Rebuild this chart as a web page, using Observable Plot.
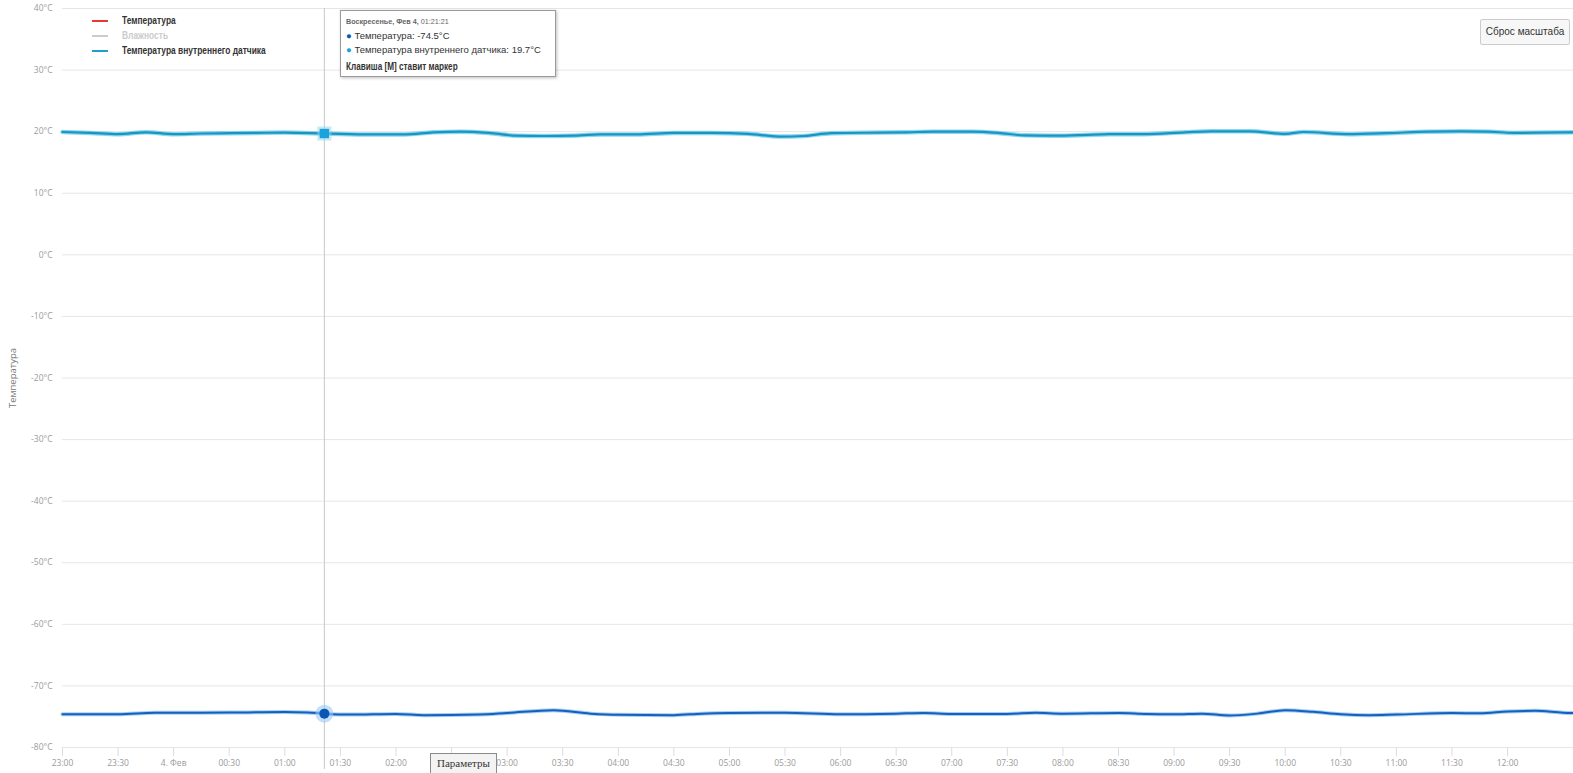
<!DOCTYPE html>
<html>
<head>
<meta charset="utf-8">
<script src="https://cdn.jsdelivr.net/npm/d3@7"></script>
<script src="https://cdn.jsdelivr.net/npm/@observablehq/plot@0.6"></script>
<style>
  html, body { margin: 0; padding: 0; background: #fff; }
  #wrap { position: relative; width: 1573px; height: 773px; overflow: hidden; }
  #wrap svg { position: absolute; left: 0; top: 0; }
  .legend { position: absolute; left: 92px; top: 13px; font-family: "Liberation Sans", Arial, sans-serif; font-weight: bold; font-size: 10.5px; color: #333; }
  .legend .row { height: 15px; line-height: 15px; white-space: nowrap; position: relative; }
  .legend .sw { position: absolute; left: 0; top: 7px; width: 16px; height: 2px; }
  .legend .tx { position: absolute; left: 30px; top: 0; transform: scaleX(0.8); transform-origin: 0 50%; }
  .tip { position: absolute; left: 340px; top: 10px; width: 214px; height: 65px; border: 1px solid #9a9a9a; background: rgba(255,255,255,0.95); box-shadow: 1px 1px 3px rgba(0,0,0,0.25); font-family: "Liberation Sans", Arial, sans-serif; color: #333; }
  .tip .l1 { position: absolute; left: 5px; top: 6px; font-size: 8px; color: #666; white-space: nowrap; transform: scaleX(0.9); transform-origin: 0 50%; }
  .tip .l2, .tip .l3 { position: absolute; left: 5px; font-size: 9.5px; white-space: nowrap; color: #333; }
  .tip .l2 { top: 19px; }
  .tip .l3 { top: 33px; }
  .tip .l4 { position: absolute; left: 5px; top: 49px; font-size: 10.5px; font-weight: bold; color: #333; white-space: nowrap; transform: scaleX(0.78); transform-origin: 0 50%; }
  .btn { position: absolute; white-space: nowrap; box-sizing: border-box; text-align: center; }
  .reset { left: 1480px; top: 19px; width: 90px; height: 26px; border: 1px solid #cccccc; border-radius: 2px; background: #f7f7f7; font-family: "Liberation Sans", Arial, sans-serif; font-size: 10px; line-height: 24px; color: #333; }
  .params { left: 430px; top: 753px; width: 67px; height: 21px; border: 1px solid #8a8a8a; background: #f3f3f3; font-family: "Liberation Serif", "Times New Roman", serif; font-size: 11px; font-weight: normal; line-height: 19px; color: #333; }
</style>
</head>
<body>
<div id="wrap"></div>
<script>
// ---- Data ----
const seriesNames = ["Температура", "Влажность", "Температура внутреннего датчика"];
const seriesColors = ["#e53935", "#cccccc", "#1ba1d0"];

// Temperature (outdoor), °C
const tempTimes = [
  "2024-02-03T23:00", "2024-02-03T23:15", "2024-02-03T23:30", "2024-02-03T23:50",
  "2024-02-04T00:15", "2024-02-04T00:40", "2024-02-04T01:00", "2024-02-04T01:12",
  "2024-02-04T01:21:21", "2024-02-04T01:35", "2024-02-04T02:00", "2024-02-04T02:15",
  "2024-02-04T02:45", "2024-02-04T03:00", "2024-02-04T03:25", "2024-02-04T03:45",
  "2024-02-04T04:00", "2024-02-04T04:30", "2024-02-04T04:45", "2024-02-04T05:00",
  "2024-02-04T05:30", "2024-02-04T06:00", "2024-02-04T06:30", "2024-02-04T06:45",
  "2024-02-04T07:00", "2024-02-04T07:30", "2024-02-04T07:45", "2024-02-04T08:00",
  "2024-02-04T08:30", "2024-02-04T08:45", "2024-02-04T09:00", "2024-02-04T09:15",
  "2024-02-04T09:30", "2024-02-04T09:45", "2024-02-04T10:00", "2024-02-04T10:15",
  "2024-02-04T10:30", "2024-02-04T10:45", "2024-02-04T11:00", "2024-02-04T11:30",
  "2024-02-04T11:45", "2024-02-04T12:00", "2024-02-04T12:15", "2024-02-04T12:30",
  "2024-02-04T12:36"
];
const tempValues = [
  -74.6, -74.6, -74.6, -74.35,
  -74.35, -74.3, -74.25, -74.3,
  -74.5, -74.65, -74.55, -74.75,
  -74.65, -74.4, -73.95, -74.5,
  -74.7, -74.75, -74.5, -74.4,
  -74.35, -74.6, -74.5, -74.4,
  -74.55, -74.55, -74.35, -74.5,
  -74.4, -74.55, -74.6, -74.5,
  -74.8, -74.5, -73.95, -74.2,
  -74.6, -74.75, -74.65, -74.4,
  -74.45, -74.15, -74.05, -74.35,
  -74.4
];

// Internal sensor temperature, °C
const innerTimes = [
  "2024-02-03T23:00", "2024-02-03T23:15", "2024-02-03T23:30", "2024-02-03T23:45",
  "2024-02-04T00:00", "2024-02-04T00:15", "2024-02-04T00:30", "2024-02-04T00:45",
  "2024-02-04T01:00", "2024-02-04T01:21:21", "2024-02-04T01:35", "2024-02-04T01:50",
  "2024-02-04T02:05", "2024-02-04T02:20", "2024-02-04T02:35", "2024-02-04T02:50",
  "2024-02-04T03:05", "2024-02-04T03:20", "2024-02-04T03:35", "2024-02-04T03:50",
  "2024-02-04T04:10", "2024-02-04T04:30", "2024-02-04T04:50", "2024-02-04T05:10",
  "2024-02-04T05:27", "2024-02-04T05:40", "2024-02-04T05:55", "2024-02-04T06:22",
  "2024-02-04T06:36", "2024-02-04T06:50", "2024-02-04T07:11", "2024-02-04T07:25",
  "2024-02-04T07:39", "2024-02-04T07:55", "2024-02-04T08:11", "2024-02-04T08:25",
  "2024-02-04T08:44", "2024-02-04T09:06", "2024-02-04T09:20", "2024-02-04T09:41",
  "2024-02-04T10:00", "2024-02-04T10:10", "2024-02-04T10:34", "2024-02-04T10:55",
  "2024-02-04T11:17", "2024-02-04T11:35", "2024-02-04T11:50", "2024-02-04T12:03",
  "2024-02-04T12:20", "2024-02-04T12:36"
];
const innerValues = [
  19.95, 19.8, 19.6, 19.9,
  19.6, 19.7, 19.75, 19.8,
  19.85, 19.7, 19.6, 19.55,
  19.55, 19.9, 20.0, 19.8,
  19.35, 19.3, 19.35, 19.55,
  19.55, 19.8, 19.8, 19.65,
  19.2, 19.3, 19.75, 19.85,
  19.9, 20.0, 20.0, 19.8,
  19.4, 19.35, 19.45, 19.6,
  19.6, 19.9, 20.05, 20.05,
  19.65, 19.95, 19.6, 19.75,
  20.0, 20.05, 20.0, 19.8,
  19.85, 19.9
];

const yTicks = [-80, -70, -60, -50, -40, -30, -20, -10, 0, 10, 20, 30, 40];
const xStart = "2024-02-03T23:00";
const xEnd = "2024-02-04T12:35:36";
const xLastTick = "2024-02-04T12:00";
const xHiddenLabel = "02:30"; // covered by the «Параметры» button in the source
const crossTime = "2024-02-04T01:21:21";
const crossTemp = -74.5;
const crossInner = 19.7;
const monthShort = "Фев";

// ---- Build ----
const tempRows = tempTimes.map((t, i) => ({t: new Date(t), v: tempValues[i]}));
const innerRows = innerTimes.map((t, i) => ({t: new Date(t), v: innerValues[i]}));
const x0 = new Date(xStart), x1 = new Date(xEnd);
const xTicks = d3.timeMinute.every(30).range(x0, new Date(+new Date(xLastTick) + 1));
const fmtHM = d3.timeFormat("%H:%M");
const xFmt = d => {
  if (d.getHours() === 0 && d.getMinutes() === 0) return `${d.getDate()}. ${monthShort}`;
  const s = fmtHM(d);
  return s === xHiddenLabel ? "" : s;
};
const ct = new Date(crossTime);

const chart = Plot.plot({
  width: 1573,
  height: 773,
  marginLeft: 62,
  marginRight: 0,
  marginTop: 8,
  marginBottom: 26,
  style: {fontFamily: "'Open Sans', 'DejaVu Sans', sans-serif", background: "white", overflow: "visible"},
  x: {type: "time", domain: [x0, x1]},
  y: {domain: [-80, 40]},
  marks: [
    Plot.gridY(yTicks, {stroke: "#e6e6e6", strokeOpacity: 1}),
    Plot.axisY(yTicks, {tickSize: 0, tickPadding: 10, tickFormat: d => d + "°C", fontSize: 8.5, fill: "#9a9a9a", label: null}),
    Plot.axisX(xTicks, {tickSize: 9, tickPadding: 3, stroke: "#d8dde8", fill: "#9a9a9a", fontSize: 8.5, tickFormat: xFmt, label: null}),
    Plot.text([seriesNames[0]], {frameAnchor: "left", dx: -50, rotate: -90, textAnchor: "middle", fontSize: 9.5, fill: "#777"}),
    Plot.ruleX([ct], {stroke: "#c8c8c8", strokeWidth: 1, insetBottom: -22}),
    // internal sensor line (halo + core)
    Plot.line(innerRows, {x: "t", y: "v", curve: "monotone-x", stroke: "#63c9ec", strokeWidth: 4.5, strokeOpacity: 0.75}),
    Plot.line(innerRows, {x: "t", y: "v", curve: "monotone-x", stroke: "#1b95c0", strokeWidth: 2.2}),
    // temperature line (halo + core)
    Plot.line(tempRows, {x: "t", y: "v", curve: "monotone-x", stroke: "#7ab8ee", strokeWidth: 4, strokeOpacity: 0.7}),
    Plot.line(tempRows, {x: "t", y: "v", curve: "monotone-x", stroke: "#1560bd", strokeWidth: 2}),
    // hover markers
    Plot.dot([{t: ct, v: crossInner}], {x: "t", y: "v", symbol: "square", r: 8, fill: "#8fd6f0", fillOpacity: 0.5}),
    Plot.dot([{t: ct, v: crossInner}], {x: "t", y: "v", symbol: "square", r: 5.3, fill: "#1aa3db"}),
    Plot.dot([{t: ct, v: crossTemp}], {x: "t", y: "v", r: 9, fill: "#9cc9f3", fillOpacity: 0.6}),
    Plot.dot([{t: ct, v: crossTemp}], {x: "t", y: "v", r: 5, fill: "#0b55b5"})
  ]
});

const wrap = document.getElementById("wrap");
wrap.appendChild(chart);

// Legend
const legend = document.createElement("div");
legend.className = "legend";
seriesNames.forEach((n, i) => {
  const row = document.createElement("div");
  row.className = "row";
  const sw = document.createElement("span");
  sw.className = "sw";
  sw.style.background = seriesColors[i];
  row.appendChild(sw);
  const tx = document.createElement("span");
  tx.className = "tx";
  tx.textContent = n;
  if (i === 1) tx.style.color = "#cccccc";
  row.appendChild(tx);
  legend.appendChild(row);
});
wrap.appendChild(legend);

// Tooltip
const tip = document.createElement("div");
tip.className = "tip";
tip.innerHTML =
  `<div class="l1"><b>Воскресенье, ${monthShort} 4,</b> ${d3.timeFormat("%H:%M:%S")(ct)}</div>` +
  `<div class="l2"><span style="color:#0b55b5">●</span> ${seriesNames[0]}: ${crossTemp}°C</div>` +
  `<div class="l3"><span style="color:#1aa3db">●</span> ${seriesNames[2]}: ${crossInner}°C</div>` +
  `<div class="l4">Клавиша [M] ставит маркер</div>`;
wrap.appendChild(tip);

// Buttons
const reset = document.createElement("div");
reset.className = "btn reset";
reset.textContent = "Сброс масштаба";
wrap.appendChild(reset);
const params = document.createElement("div");
params.className = "btn params";
params.textContent = "Параметры";
wrap.appendChild(params);
</script>
</body>
</html>
